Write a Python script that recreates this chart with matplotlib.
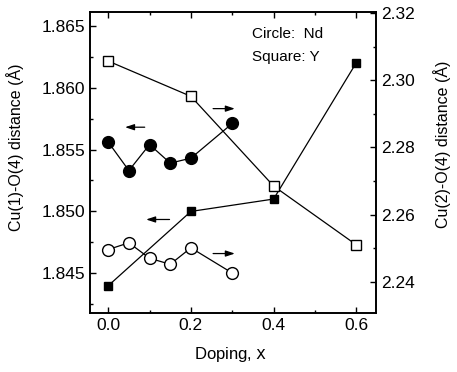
import matplotlib.pyplot as plt
from matplotlib.ticker import MultipleLocator

plt.rcParams['font.family'] = ['Liberation Sans', 'DejaVu Sans']

# Nd series (circles)
nd_x = [0.0, 0.05, 0.1, 0.15, 0.2, 0.3]
nd_cu1 = [1.8556, 1.8533, 1.8554, 1.8539, 1.8543, 1.8571]   # left axis, filled
nd_cu2 = [2.2496, 2.2516, 2.2470, 2.2452, 2.2501, 2.2426]   # right axis, open

# Y series (squares)
y_x = [0.0, 0.2, 0.4, 0.6]
y_cu1 = [1.8440, 1.8500, 1.8510, 1.8620]                    # left axis, filled
y_cu2 = [2.3057, 2.2952, 2.2685, 2.2510]                    # right axis, open

fig = plt.figure(figsize=[4.57, 3.72], dpi=100)
ax1 = fig.add_axes([0.197, 0.1586, 0.626, 0.8091])
ax2 = ax1.twinx()

lw = 0.9
ax1.plot(nd_x, nd_cu1, 'o-', color='black', markersize=8.5, lw=lw)
ax1.plot(y_x, y_cu1, 's-', color='black', markersize=6, lw=lw)
ax2.plot(nd_x, nd_cu2, 'o-', color='black', mfc='white', markersize=8.5, lw=lw)
ax2.plot(y_x, y_cu2, 's-', color='black', mfc='white', markersize=6.5, lw=lw)

ax1.set_xlim(-0.044, 0.648)
ax1.set_ylim(1.8418, 1.8661)
ax2.set_ylim(2.2307, 2.3203)

ax1.xaxis.set_major_locator(MultipleLocator(0.2))
ax1.xaxis.set_minor_locator(MultipleLocator(0.1))
ax1.yaxis.set_major_locator(MultipleLocator(0.005))
ax1.yaxis.set_minor_locator(MultipleLocator(0.0025))
ax2.yaxis.set_major_locator(MultipleLocator(0.02))
ax2.yaxis.set_minor_locator(MultipleLocator(0.01))
ax1.xaxis.set_major_formatter(plt.FormatStrFormatter('%.1f'))
ax1.yaxis.set_major_formatter(plt.FormatStrFormatter('%.3f'))
ax2.yaxis.set_major_formatter(plt.FormatStrFormatter('%.2f'))

ax1.tick_params(axis='x', which='both', direction='in', top=True, labelsize=12.5)
ax1.tick_params(axis='y', which='both', direction='in', labelsize=12.5)
ax2.tick_params(axis='y', which='both', direction='in', labelsize=12.5)
for ax in (ax1, ax2):
    ax.tick_params(which='major', length=4, width=1)
    ax.tick_params(which='minor', length=2, width=1)
    for sp in ax.spines.values():
        sp.set_linewidth(1.2)

ax1.set_xlabel('Doping, $\\mathtt{x}$', fontsize=12)
ax1.set_ylabel('Cu(1)-O(4) distance (Å)', fontsize=11.5)
ax2.set_ylabel('Cu(2)-O(4) distance (Å)', fontsize=11.5)
ax1.xaxis.set_label_coords(0.49, -0.105)
ax1.yaxis.set_label_coords(-0.232, 0.55)
ax2.yaxis.set_label_coords(1.2, 0.56)

# little arrows telling which axis each series belongs to
arrow = dict(arrowstyle='-|>,head_length=0.6,head_width=0.2', color='black', lw=0.9, mutation_scale=9)
ax1.annotate('', xy=(0.034, 1.8568), xytext=(0.095, 1.8568), arrowprops=arrow)
ax1.annotate('', xy=(0.313, 1.8583), xytext=(0.247, 1.8583), arrowprops=arrow)
ax1.annotate('', xy=(0.085, 1.84935), xytext=(0.155, 1.84935), arrowprops=arrow)
ax1.annotate('', xy=(0.313, 1.8466), xytext=(0.247, 1.8466), arrowprops=arrow)

ax1.text(0.567, 0.927, 'Circle:  Nd', transform=ax1.transAxes, fontsize=11, va='center')
ax1.text(0.567, 0.850, 'Square: Y', transform=ax1.transAxes, fontsize=11, va='center')

fig.savefig('out.png', dpi=100)
